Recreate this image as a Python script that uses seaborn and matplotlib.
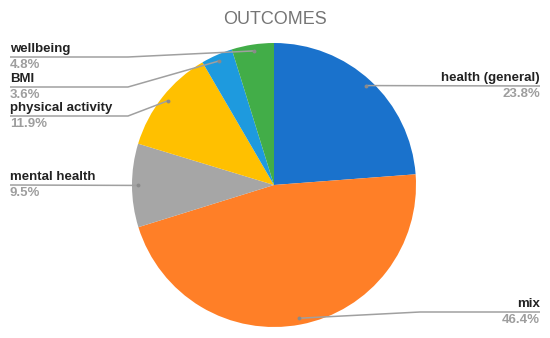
import numpy as np
import matplotlib
matplotlib.use("Agg")
import matplotlib.pyplot as plt
import seaborn as sns

# datos del grafico
categorias = ["health (general)", "mix", "mental health", "physical activity", "BMI", "wellbeing"]
porcentajes = [23.8, 46.4, 9.5, 11.9, 3.6, 4.8]
colores = ["#1a72cc", "#ff7f27", "#a6a6a6", "#ffc000", "#1e9ade", "#42ad48"]

sns.set_theme(style="white")
plt.rcParams["font.family"] = ["Liberation Sans", "DejaVu Sans"]

W, H = 550, 338
fig = plt.figure(figsize=(W / 100, H / 100), dpi=100)
ax = fig.add_axes([0, 0, 1, 1])

def py(y):
    # pixel desde arriba -> coordenada de datos
    return H - y

centro = (274, py(185))
radio = 142

wedges, _ = ax.pie(porcentajes, colors=colores, startangle=90, counterclock=False,
                   center=centro, radius=radio, wedgeprops=dict(linewidth=0))
ax.set_xlim(0, W)
ax.set_ylim(0, H)
ax.set_aspect("equal")
ax.axis("off")

# layout de etiquetas: lado, y de la linea (px), x del codo
layout = {
    "health (general)": ("right", 86, None),
    "mix": ("right", 312, 420),
    "mental health": ("left", 185, None),
    "physical activity": ("left", 116, 128),
    "BMI": ("left", 87, 128),
    "wellbeing": ("left", 57, 128),
}

gris_linea = "#a0a0a0"
for w, cat, pct in zip(wedges, categorias, porcentajes):
    mid = np.deg2rad((w.theta1 + w.theta2) / 2)
    dx = centro[0] + 0.955 * radio * np.cos(mid)
    dy = centro[1] + 0.955 * radio * np.sin(mid)
    lado, ly, codo = layout[cat]
    if lado == "left":
        xs = [10] + ([codo] if codo else []) + [dx]
        ys = [py(ly)] + ([py(ly)] if codo else []) + [dy]
        tx, ha = 10, "left"
    else:
        xs = [dx] + ([codo] if codo else []) + [540]
        ys = [dy] + ([py(ly)] if codo else []) + [py(ly)]
        tx, ha = 540, "right"
    ax.plot(xs, ys, color=gris_linea, lw=1.1, solid_capstyle="butt")
    ax.plot(dx, dy, "o", color="#8a8a8a", ms=2.8, mec="none")
    ax.text(tx, py(ly - 8), cat, ha=ha, va="center", fontsize=9.5,
            fontweight="bold", color="#222222")
    ax.text(tx, py(ly + 8), f"{pct}%", ha=ha, va="center", fontsize=9.5,
            fontweight="bold", color="#9e9e9e")

fig.text(275 / W, 1 - 20 / H, "OUTCOMES", ha="center", va="center",
         fontsize=13, color="#757575")

fig.savefig("out.png", dpi=100)
